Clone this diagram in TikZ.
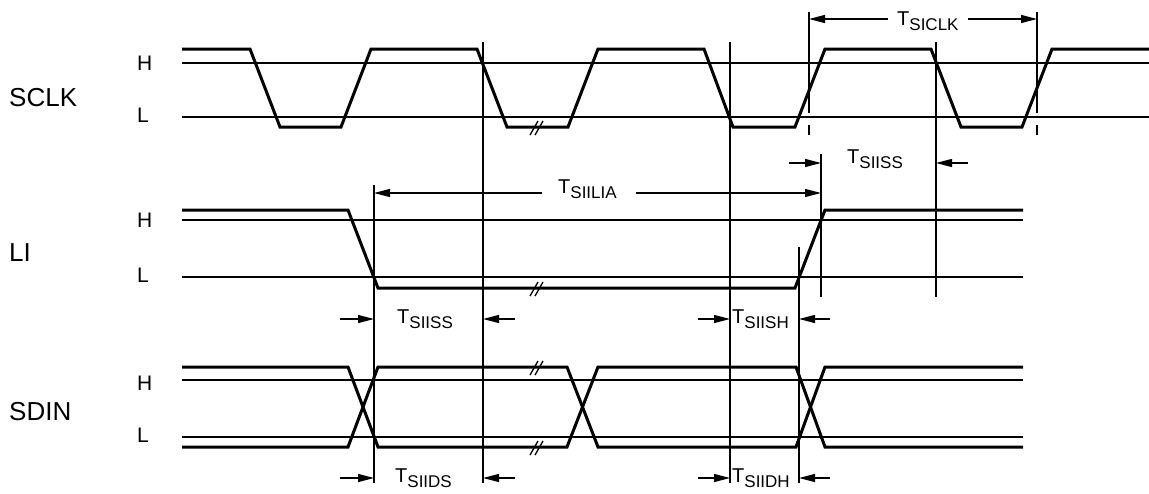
\documentclass[tikz,border=0pt]{standalone}
\usepackage{fontspec}
\setmainfont{Liberation Sans}
\usetikzlibrary{arrows.meta}

\newcommand{\tsub}[1]{{\fontsize{20}{20}\selectfont T}{\fontsize{17}{17}\selectfont\raisebox{-5pt}{#1}}}

\tikzset{
    wave/.style={line width=3pt},
    thinline/.style={line width=1.3pt},
    dim/.style={line width=1.3pt,-{Triangle[length=16pt,width=8pt]}},
    sig/.style={anchor=west,inner sep=0pt,font=\fontsize{26}{26}\selectfont},
    lvl/.style={anchor=west,inner sep=0pt,font=\fontsize{21}{21}\selectfont},
    tlabel/.style={anchor=base west,inner xsep=9pt,inner ysep=0pt},
    breakmark/.pic={\draw[thinline] (-7,8) -- (1,-6) (-2,8) -- (6,-6);}
}

\begin{document}
\begin{tikzpicture}[x=1pt,y=-1pt]
    \useasboundingbox (0,0) rectangle (1149,493);

    \node[sig] (sclk) at (9,98) {SCLK};
    \node[sig] (li) at (9,253) {LI};
    \node[sig] (sdin) at (9,412) {SDIN};

    \node[lvl] (sclkh) at (137,63) {H};
    \node[lvl] (sclkl) at (137,115) {L};
    \node[lvl] (lih) at (137,220) {H};
    \node[lvl] (lil) at (137,275) {L};
    \node[lvl] (sdinh) at (137,383) {H};
    \node[lvl] (sdinl) at (137,435) {L};

    \draw[thinline] (182,63) -- (1149,63);
    \draw[thinline] (182,117) -- (1149,117);
    \draw[thinline] (182,220) -- (1023,220);
    \draw[thinline] (182,277) -- (1023,277);
    \draw[thinline] (182,380) -- (1023,380);
    \draw[thinline] (182,437) -- (1023,437);

    \draw[wave] (182,49) -- (250,49) -- (280,127) -- (341,127) -- (371,49) -- (477,49) -- (507,127)
        -- (568,127) -- (598,49) -- (704,49) -- (733,127) -- (795,127) -- (825,49) -- (931,49)
        -- (961,127) -- (1022,127) -- (1052,49) -- (1149,49);
    \draw[wave] (182,210) -- (348,210) -- (378,288) -- (795,288) -- (825,210) -- (1023,210);
    \draw[wave] (182,367) -- (348,367) -- (378,447) -- (567,447) -- (598,367) -- (796,367) -- (825,447) -- (1023,447);
    \draw[wave] (182,447) -- (348,447) -- (378,367) -- (567,367) -- (598,447) -- (796,447) -- (825,367) -- (1023,367);

    \foreach \y in {127,288,367,447}
        \pic at (537,\y) {breakmark};

    \foreach \x/\t/\b in {374/185/483, 483/42/483, 730/42/483, 799/247/483, 821/154/297, 936/42/297}
        \draw[thinline] (\x,\t) -- (\x,\b);
    \draw[thinline,dash pattern=on 101pt off 12pt on 10pt] (809,12) -- (809,135);
    \draw[thinline,dash pattern=on 101pt off 12pt on 10pt] (1037,12) -- (1037,135);

    \node[tlabel] (tsiclk) at (888,25) {\tsub{SICLK}};
    \node[tlabel] (tsiiss) at (838,163) {\tsub{SIISS}};
    \node[tlabel] (tsiilia) at (549,193) {\tsub{SIILIA}};
    \node[tlabel] (tsiissb) at (388,323) {\tsub{SIISS}};
    \node[tlabel] (tsiish) at (723,323) {\tsub{SIISH}};
    \node[tlabel] (tsiids) at (386,482) {\tsub{SIIDS}};
    \node[tlabel] (tsiidh) at (723,482) {\tsub{SIIDH}};

    \coordinate (clka) at (809,19);
    \coordinate (clkb) at (1037,19);
    \coordinate (liaa) at (374,193);
    \coordinate (liab) at (821,193);
    \draw[dim] (tsiclk.west |- clka) -- (clka);
    \draw[dim] (tsiclk.east |- clkb) -- (clkb);
    \draw[dim,shorten <=7pt] (tsiilia.west |- liaa) -- (liaa);
    \draw[dim,shorten <=10pt] (tsiilia.east |- liab) -- (liab);

    \coordinate (issa) at (789,163);
    \coordinate (issah) at (821,163);
    \coordinate (issb) at (968,163);
    \coordinate (issbh) at (936,163);
    \draw[dim] (issa) -- (issah);
    \draw[dim] (issb) -- (issbh);

    \coordinate (lsa) at (340,319);
    \coordinate (lsah) at (374,319);
    \coordinate (lsb) at (515,319);
    \coordinate (lsbh) at (483,319);
    \coordinate (lha) at (698,319);
    \coordinate (lhah) at (730,319);
    \coordinate (lhb) at (830,319);
    \coordinate (lhbh) at (799,319);
    \draw[dim] (lsa) -- (lsah);
    \draw[dim] (lsb) -- (lsbh);
    \draw[dim] (lha) -- (lhah);
    \draw[dim] (lhb) -- (lhbh);

    \coordinate (dsa) at (340,478);
    \coordinate (dsah) at (374,478);
    \coordinate (dsb) at (515,478);
    \coordinate (dsbh) at (483,478);
    \coordinate (dha) at (698,478);
    \coordinate (dhah) at (730,478);
    \coordinate (dhb) at (830,478);
    \coordinate (dhbh) at (799,478);
    \draw[dim] (dsa) -- (dsah);
    \draw[dim] (dsb) -- (dsbh);
    \draw[dim] (dha) -- (dhah);
    \draw[dim] (dhb) -- (dhbh);
\end{tikzpicture}
\end{document}
